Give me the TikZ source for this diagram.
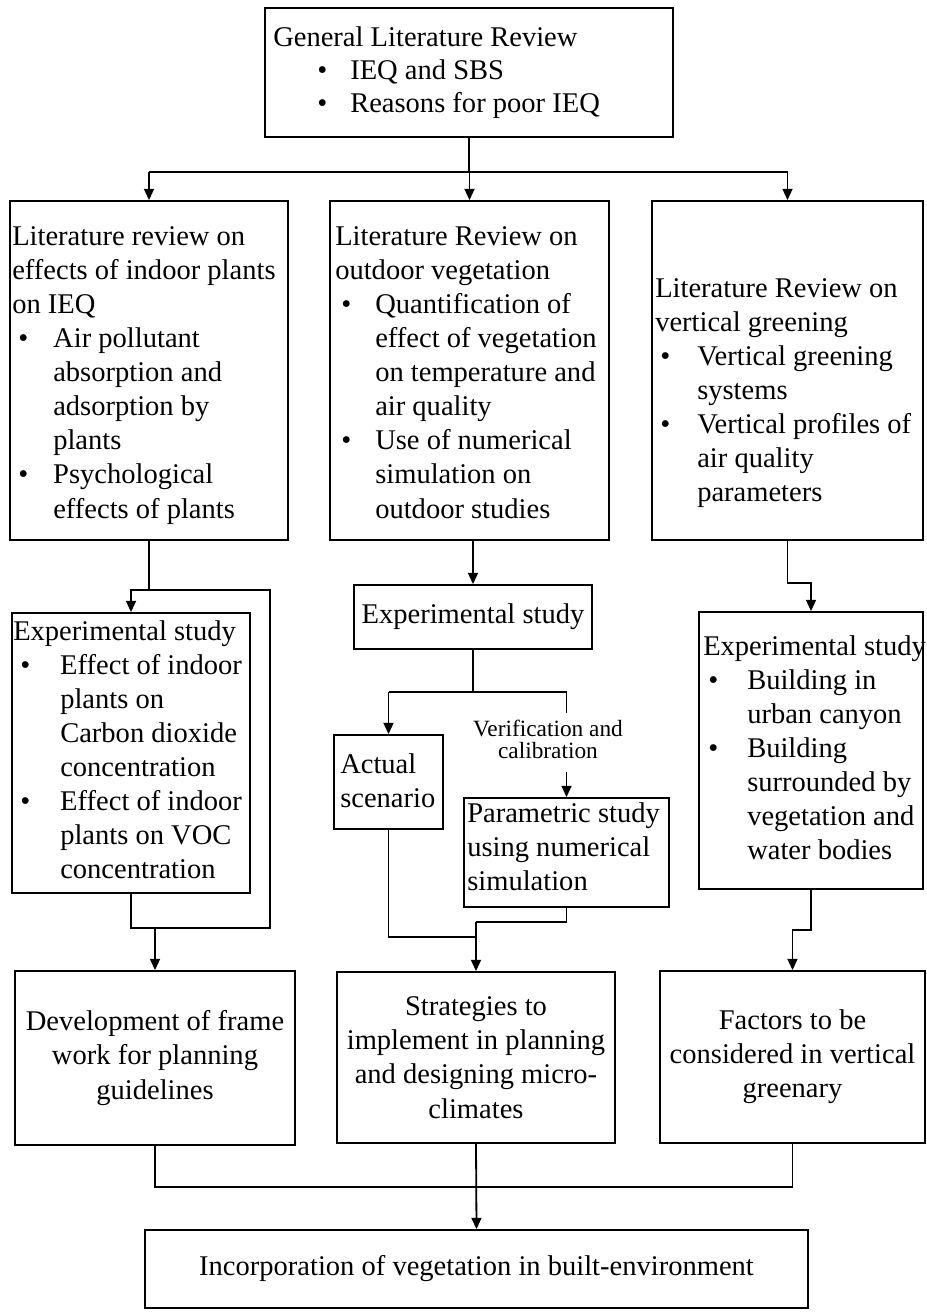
\documentclass[tikz,border=0pt]{standalone}
\usepackage{fontspec}
\setmainfont{Liberation Serif}
\usetikzlibrary{arrows.meta,fit}
\newdimen\pxu \pxu=0.75pt
\newcommand\fs{\fontsize{21.4}{25.6}\selectfont}
\newcommand\fsmall{\fontsize{17.5}{17}\selectfont}
\newcommand\bulx[2]{\hspace*{#1\pxu}\makebox[#2\pxu][l]{\textbullet}}
\newcommand\indx[1]{\hspace*{#1\pxu}}
\newcommand\bx[5]{\path (#2,#3) coordinate (#1-a) (#4,#5) coordinate (#1-b); \node[boxs, fit=(#1-a)(#1-b)] (#1) {};}
\newcommand\lt[1]{\parbox[t]{330\pxu}{\raggedright #1}}
\begin{document}
\begin{tikzpicture}[x=0.75pt,y=-0.75pt,
  boxs/.style={draw, line width=1.35pt, inner sep=0pt},
  ln/.style={line width=1.35pt},
  arr/.style={ln, -{Triangle[length=8.5pt,width=7.5pt]}},
  tx/.style={inner sep=0pt, anchor=base west, font=\fs},
  ctx/.style={inner sep=0pt, align=center, font=\fs}]
\fill[white] (0,0) rectangle (927,1314);
\useasboundingbox (0,0) rectangle (927,1314);

% boxes
\bx{top}{265}{8}{673}{137}
\bx{L2}{10}{201}{288}{540}
\bx{M2}{330}{201}{609}{540}
\bx{R2}{652}{201}{923}{540}
\bx{L3}{12}{613}{250}{893}
\bx{M3}{354}{585}{592}{649}
\bx{R3}{699}{612}{923}{889}
\bx{A}{334}{735}{443}{829}
\bx{P}{464}{798}{669}{907}
\bx{D}{15}{971}{295}{1145}
\bx{S}{337}{972}{615}{1143}
\bx{F}{660}{971}{925}{1143}
\bx{G}{145}{1230}{808}{1308}

% texts
\node[tx, font=\fontsize{21.4}{25}\selectfont] (ttop) at (273,46) {\lt{General Literature Review\\
 \bulx{44}{33}IEQ and SBS\\
 \bulx{44}{33}Reasons for poor IEQ}};
\node[tx] (tL2) at (12,245) {\lt{Literature review on\\
 effects of indoor plants\\
 on IEQ\\
 \bulx{6}{35}Air pollutant\\
 \indx{41}absorption and\\
 \indx{41}adsorption by\\
 \indx{41}plants\\
 \bulx{6}{35}Psychological\\
 \indx{41}effects of plants}};
\node[tx] (tM2) at (335,245) {\lt{Literature Review on\\
 outdoor vegetation\\
 \bulx{6}{34}Quantification of\\
 \indx{40}effect of vegetation\\
 \indx{40}on temperature and\\
 \indx{40}air quality\\
 \bulx{6}{34}Use of numerical\\
 \indx{40}simulation on\\
 \indx{40}outdoor studies}};
\node[tx] (tR2) at (655,297) {\lt{Literature Review on\\
 vertical greening\\
 \bulx{5}{37}Vertical greening\\
 \indx{42}systems\\
 \bulx{5}{37}Vertical profiles of\\
 \indx{42}air quality\\
 \indx{42}parameters}};
\node[tx] (tL3) at (13,640) {\lt{Experimental study\\
 \bulx{7}{40}Effect of indoor\\
 \indx{47}plants on\\
 \indx{47}Carbon dioxide\\
 \indx{47}concentration\\
 \bulx{7}{40}Effect of indoor\\
 \indx{47}plants on VOC\\
 \indx{47}concentration}};
\node[ctx] (tM3) at (M3.center) {Experimental study};
\node[tx] (tA) at (340,773) {\lt{Actual\\scenario}};
\node[tx] (tP) at (467,822) {\lt{Parametric study\\using numerical\\simulation}};
\node[tx] (tR3) at (703,655) {\lt{Experimental study\\
 \bulx{5}{39}Building in\\
 \indx{44}urban canyon\\
 \bulx{5}{39}Building\\
 \indx{44}surrounded by\\
 \indx{44}vegetation and\\
 \indx{44}water bodies}};
\node[inner sep=0pt, anchor=base, font=\fsmall] (V) at (548,736)
  {\parbox[t]{220\pxu}{\centering Verification and\\calibration}};
\node[ctx] (tD) at (D.center) {Development of frame\\work for planning\\guidelines};
\node[ctx] (tS) at (S.center) {Strategies to\\implement in planning\\and designing micro-\\climates};
\node[ctx] (tF) at (F.center) {Factors to be\\considered in vertical\\greenary};
\node[ctx] (tG) at (G.center) {Incorporation of vegetation in built-environment};

% connectors: top
\coordinate (tj) at (469,172);
\draw[ln] (top.south) -- (top.south |- tj);
\draw[ln] (L2.north |- tj) -- (R2.north |- tj);
\foreach \n in {L2,M2,R2} \draw[arr] (\n.north |- tj) -- (\n.north);

% left column
\coordinate (la) at (270,590);
\coordinate (lb) at (270,928);
\draw[ln] (L2.south) -- (L2.south |- la) -- (la) -- (lb) -- (L3.south |- lb) -- (L3.south);
\draw[arr] (L2.south |- la) -- (L3.north |- la) -- (L3.north);
\draw[arr] (D.north |- lb) -- (D.north);

% middle column
\draw[arr] (M3.north |- M2.south) -- (M3.north);
\coordinate (mc) at (473,692);
\draw[ln] (M3.south) -- (mc);
\draw[ln] (A.north |- mc) -- (P.north |- mc) -- ++(0,21);
\draw[arr] (A.north |- mc) -- (A.north);
\coordinate (vb) at (567,772);
\draw[arr] (P.north |- vb) -- (P.north);
\coordinate (m1) at (476,937);
\coordinate (m2) at (476,922);
\draw[ln] (A.south) -- (A.south |- m1) -- (m1);
\draw[ln] (P.south) -- (P.south |- m2) -- (m2);
\draw[arr] (S.north |- m2) -- (S.north);

% right column
\coordinate (r1) at (0,583);
\draw[arr] (R2.south) -- (R2.south |- r1) -| (R3.north);
\coordinate (r2) at (0,930);
\draw[arr] (R3.south) -- (R3.south |- r2) -| (F.north);

% bottom merge
\coordinate (g) at (0,1187);
\draw[ln] (D.south) -- (D.south |- g) -- (F.south |- g) -- (F.south);
\draw[arr] (S.south) -- (G.north);
\end{tikzpicture}
\end{document}
